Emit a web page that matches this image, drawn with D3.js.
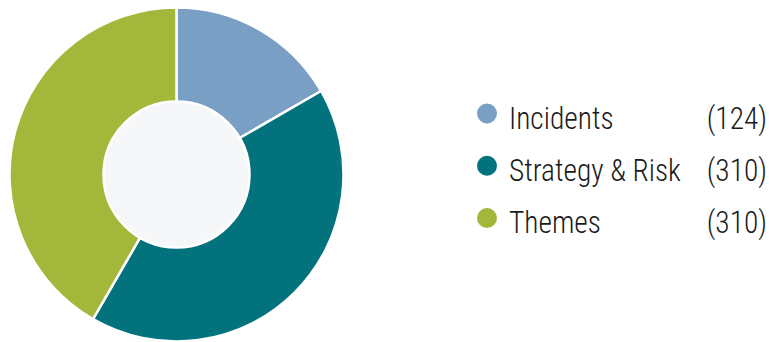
<!DOCTYPE html>
<html>
<head>
<meta charset="utf-8">
<script src="https://cdn.jsdelivr.net/npm/d3@7"></script>
<style>
  html, body { margin: 0; padding: 0; background: #ffffff; }
  svg { display: block; }
  .legend text { font-family: "Roboto Condensed", "Liberation Sans Narrow", "Liberation Sans", sans-serif; font-size: 32px; font-weight: 300; fill: #1a1a1a; }
</style>
</head>
<body>
<svg id="chart" width="769" height="342"></svg>
<script>
// Category breakdown
const categories = ["Incidents", "Strategy & Risk", "Themes"];
const counts = [124, 310, 310];
const colors = ["#7a9fc5", "#02727d", "#a3b83b"];

const svg = d3.select("#chart");
const cx = 176.5, cy = 174.5;
const outerR = 167, innerR = 73;

const pie = d3.pie().sort(null).value(d => d.value);
const arcs = pie(categories.map((c, i) => ({ name: c, value: counts[i], color: colors[i] })));
const arc = d3.arc().innerRadius(0).outerRadius(outerR);

const g = svg.append("g").attr("transform", `translate(${cx},${cy})`);
g.selectAll("path.slice")
  .data(arcs)
  .join("path")
  .attr("class", "slice")
  .attr("d", arc)
  .attr("fill", d => d.data.color)
  .attr("stroke", "#ffffff")
  .attr("stroke-width", 2.5)
  .attr("stroke-linejoin", "round");

// Center hole
g.append("circle")
  .attr("r", innerR)
  .attr("fill", "#f6f7f9")
  .attr("stroke", "#ffffff")
  .attr("stroke-width", 2.5);

// Legend
const rowY = d3.scalePoint().domain(categories).range([113.5, 218]);
const legend = svg.append("g").attr("class", "legend");
const rows = legend.selectAll("g.row")
  .data(arcs)
  .join("g")
  .attr("class", "row")
  .attr("transform", d => `translate(0,${rowY(d.data.name)})`);

rows.append("circle")
  .attr("cx", 487)
  .attr("cy", 0)
  .attr("r", 10)
  .attr("fill", d => d.data.color);

const names = rows.append("text")
  .attr("x", 0)
  .attr("y", 0)
  .text(d => d.data.name);

const vals = rows.append("text")
  .attr("x", 0)
  .attr("y", 0)
  .attr("text-anchor", "end")
  .text(d => `(${d.data.value})`);

// Narrow the type so the longest label spans 172px
const longest = d3.max(names.nodes(), n => n.getComputedTextLength());
const sx = Math.min(1, 172 / longest);
names.attr("transform", `translate(509,15) scale(${sx},1)`);
vals.attr("transform", `translate(767,15) scale(${sx},1)`);
</script>
</body>
</html>
